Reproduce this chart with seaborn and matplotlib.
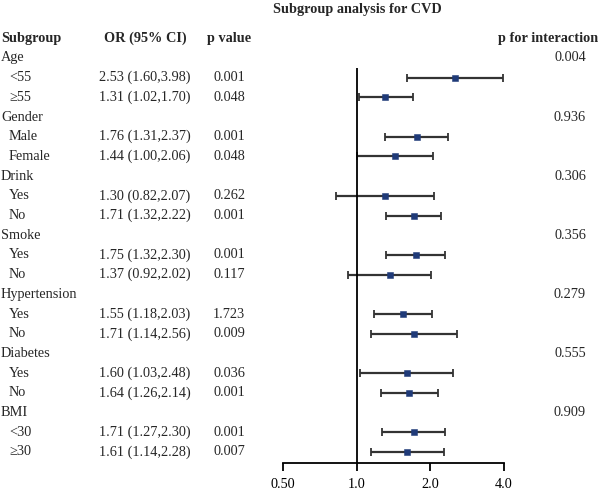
import numpy as np
import pandas as pd
import seaborn as sns
import matplotlib.pyplot as plt
import matplotlib.transforms as mtransforms

groups = ["Age", "Gender", "Drink", "Smoke", "Hypertension", "Diabetes", "BMI"]
levels = [["<55", "≥55"], ["Male", "Female"], ["Yes", "No"], ["Yes", "No"],
          ["Yes", "No"], ["Yes", "No"], ["<30", "≥30"]]
or_vals = [2.53, 1.31, 1.76, 1.44, 1.30, 1.71, 1.75, 1.37, 1.55, 1.71, 1.60, 1.64, 1.71, 1.61]
lower = [1.60, 1.02, 1.31, 1.00, 0.82, 1.32, 1.32, 0.92, 1.18, 1.14, 1.03, 1.26, 1.27, 1.14]
upper = [3.98, 1.70, 2.37, 2.06, 2.07, 2.22, 2.30, 2.02, 2.03, 2.56, 2.48, 2.14, 2.30, 2.28]
p_vals = ["0.001", "0.048", "0.001", "0.048", "0.262", "0.001", "0.001",
          "0.117", "1.723", "0.009", "0.036", "0.001", "0.001", "0.007"]
p_inter = ["0.004", "0.936", "0.306", "0.356", "0.279", "0.555", "0.909"]
x_ticks = [0.5, 1.0, 2.0, 4.0]
x_ticklabels = ["0.50", "1.0", "2.0", "4.0"]

sns.set_style("white")
plt.rcParams['font.family'] = ['Liberation Serif', 'DejaVu Serif']
plt.rcParams['font.size'] = 10.3

# build row table: group header rows + level rows
rows = []
k = 0
for gi, g in enumerate(groups):
    rows.append(dict(label=g, kind="group", pint=p_inter[gi]))
    for lv in levels[gi]:
        rows.append(dict(label=lv, kind="level", OR=or_vals[k], lo=lower[k],
                         hi=upper[k], p=p_vals[k],
                         ci=f"{or_vals[k]:.2f} ({lower[k]:.2f},{upper[k]:.2f})"))
        k += 1
df = pd.DataFrame(rows)
df["y"] = np.arange(len(df))
lv = df[df.kind == "level"]

fig = plt.figure(figsize=(6, 4.94), dpi=100)
W, H = 600, 494
row_h = 19.75
y_bottom = 20.56
y_top = -1.3
ax_top_px = 453 - (20 - y_top) * row_h
ax = fig.add_axes([283 / W, (H - 463) / H, (504 - 283) / W, (463 - ax_top_px) / H])

ax.errorbar(lv["OR"], lv["y"], xerr=[lv["OR"] - lv["lo"], lv["hi"] - lv["OR"]],
            fmt="none", ecolor="#333333", elinewidth=1.6, capsize=3, capthick=1.3,
            clip_on=False, zorder=2)
sns.scatterplot(data=lv, x="OR", y="y", marker="s", s=22, color="#1f3a78",
                edgecolor="#1f3a78", ax=ax, zorder=3, clip_on=False, legend=False)
ax.vlines(1.0, 0.5, y_bottom, color="black", lw=1.3)

ax.set_xscale("log", base=2)
ax.set_xlim(0.5, 4)
ax.set_ylim(y_bottom, y_top)
ax.set_xticks(x_ticks)
ax.set_xticklabels(x_ticklabels)
ax.minorticks_off()
ax.set_yticks([])
ax.set_xlabel("")
ax.set_ylabel("")
for s in ["top", "right", "left"]:
    ax.spines[s].set_visible(False)
ax.spines["bottom"].set_linewidth(1.3)
ax.spines["bottom"].set_color("black")
ax.tick_params(axis="x", bottom=True, direction="out", length=6, width=1.3, pad=5,
               colors="black")

# text columns: x in figure fraction, y in data rows
tr = mtransforms.blended_transform_factory(fig.transFigure, ax.transData)
hy = -1
bold = dict(fontweight="bold", transform=tr, va="center", clip_on=False)
ax.text(1 / W, hy, "Subgroup", ha="left", **bold)
ax.text(145 / W, hy, "OR (95% CI)", ha="center", **bold)
ax.text(229 / W, hy, "p value", ha="center", **bold)
ax.text(598 / W, hy, "p for interaction", ha="right", **bold)

for _, r in df.iterrows():
    if r.kind == "group":
        ax.text(1 / W, r.y, r.label, ha="left", va="center", transform=tr)
        ax.text(570 / W, r.y, r.pint, ha="center", va="center", transform=tr)
    else:
        ax.text(9 / W, r.y, r.label, ha="left", va="center", transform=tr)
        ax.text(145 / W, r.y, r.ci, ha="center", va="center", transform=tr)
        ax.text(229 / W, r.y, r.p, ha="center", va="center", transform=tr)

fig.text(357 / W, 1 - 10 / H, "Subgroup analysis for CVD", ha="center", va="center",
         fontweight="bold")

fig.savefig("out.png", dpi=100)
